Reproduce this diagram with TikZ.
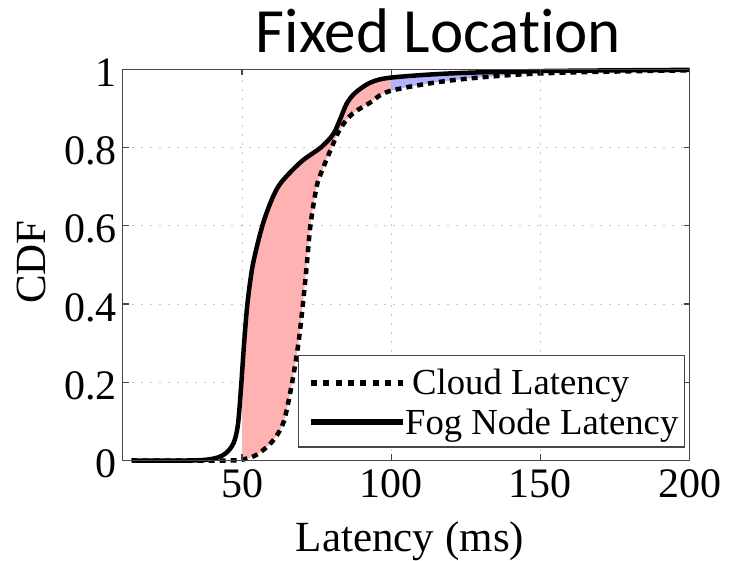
\documentclass[tikz,border=0pt]{standalone}
\usepackage{fontspec}
\setmainfont{Liberation Serif}
\newfontfamily\titlefont[Ligatures={NoCommon}]{Carlito}
\definecolor{gainred}{rgb}{1,0.7,0.7}
\definecolor{gainblue}{rgb}{0.7,0.7,1}
\definecolor{axisgray}{RGB}{70,70,70}
\definecolor{gridgray}{RGB}{200,200,200}
\tikzset{
  gridline/.style={gridgray, line width=1pt, dash pattern=on 2pt off 7pt},
  axisbox/.style={axisgray, line width=1.5pt},
  tickmark/.style={axisgray, line width=1.2pt},
  fogcurve/.style={black, line width=4.5pt, line join=round},
  cloudcurve/.style={black, line width=4.5pt, dash pattern=on 6pt off 5pt},
  ticklabel/.style={inner sep=0pt, font=\fontsize{42}{48}\selectfont},
  axislabel/.style={inner sep=0pt, font=\fontsize{43}{50}\selectfont},
  legendtext/.style={inner sep=0pt, anchor=base west, font=\fontsize{36.7}{42}\selectfont},
}
\def\fogdata{(13,0) (32,0) (38,0.002) (42,0.008) (44.8,0.02) (47.2,0.045) (48.6,0.09) (49.6,0.18) (50.7,0.3) (51.8,0.4) (53.6,0.5) (56.8,0.6) (59.9,0.666) (63,0.71) (69.8,0.764) (76.5,0.801) (80.6,0.835) (83,0.875) (85.1,0.913) (87.9,0.94) (92.9,0.966) (99.6,0.979) (120,0.99) (150,0.996) (200,0.999)}
\def\clouddata{(13,0) (46,0) (50,0.002) (55,0.015) (60.3,0.05) (64,0.1) (66.8,0.2) (68.9,0.3) (70.4,0.4) (71.7,0.5) (72.9,0.6) (75,0.7) (77,0.745) (80,0.8) (82.3,0.84) (85.1,0.872) (87.9,0.892) (92.9,0.915) (99.6,0.945) (120,0.972) (150,0.99) (200,0.998)}
\begin{document}
\begin{tikzpicture}
\useasboundingbox (0,0) rectangle (731pt,561pt);

% title
\node[inner sep=0pt, anchor=base, font=\titlefont\fontsize{63}{70}\selectfont] (title) at (438.5pt,508pt) {Fixed Location};

% axis labels
\node[axislabel, anchor=base] (xlabel) at (410pt,9pt) {Latency (ms)};
\node[axislabel, anchor=base, rotate=90] (ylabel) at (45pt,299pt) {CDF};

\begin{scope}[x=2.9832pt, y=391pt, shift={(92.87pt,100.5pt)}]
  % grid
  \foreach \gx in {50,100,150} \draw[gridline] (\gx,0) -- (\gx,1);
  \foreach \gy in {0.2,0.4,0.6,0.8} \draw[gridline] (10,\gy) -- (200,\gy);

  % region where the fog node is faster (below 100 ms)
  \begin{scope}
    \clip (50,-0.1) rectangle (100,1.1);
    \clip plot[smooth] coordinates {\fogdata} -- (200,-0.1) -- (10,-0.1) -- cycle;
    \fill[gainred] plot[smooth] coordinates {\clouddata} -- (200,1.1) -- (10,1.1) -- cycle;
  \end{scope}
  % region above 100 ms
  \begin{scope}
    \clip (100,-0.1) rectangle (200,1.1);
    \clip plot[smooth] coordinates {\fogdata} -- (200,-0.1) -- (10,-0.1) -- cycle;
    \fill[gainblue] plot[smooth] coordinates {\clouddata} -- (200,1.1) -- (10,1.1) -- cycle;
  \end{scope}

  % curves
  \draw[fogcurve] plot[smooth] coordinates {\fogdata};
  \draw[cloudcurve] plot[smooth] coordinates {\clouddata};

  % axes box and ticks
  \draw[axisbox] (10,0) rectangle (200,1);
  \foreach \tx in {50,100,150} {
    \draw[tickmark] (\tx,0) -- ++(0,6pt);
    \draw[tickmark] (\tx,1) -- ++(0,-6pt);
  }
  \foreach \ty in {0.2,0.4,0.6,0.8} {
    \draw[tickmark] (10,\ty) -- ++(6pt,0);
    \draw[tickmark] (200,\ty) -- ++(-6pt,0);
  }

  % tick labels
  \foreach \tx in {50,100,150,200}
    \node[ticklabel, anchor=base] (xt\tx) at ([yshift=-37.5pt]\tx,0) {\tx};
  \foreach \ty/\tn in {0/0,0.2/02,0.4/04,0.6/06,0.8/08,1/1}
    \node[ticklabel, anchor=base east] (yt\tn) at ([xshift=-5.7pt, yshift=-17pt]10,\ty) {\ty};
\end{scope}

% legend
\node[draw=axisgray, line width=1.2pt, fill=white, inner sep=0pt, minimum width=386.3pt, minimum height=91.7pt, anchor=south west] (legend) at (297.7pt,113.3pt) {};
\coordinate (cloudA) at (310.7pt,178.3pt);
\coordinate (cloudB) at (403.3pt,178.3pt);
\coordinate (fogA) at (310.7pt,138.7pt);
\coordinate (fogB) at (403.3pt,138.7pt);
\draw[black, line width=6pt, dash pattern=on 6pt off 6.4pt] (cloudA) -- (cloudB);
\draw[black, line width=6pt] (fogA) -- (fogB);
\node[legendtext] (cloudtext) at (412pt,166pt) {Cloud Latency};
\node[legendtext] (fogtext) at (405pt,126pt) {Fog Node Latency};
\end{tikzpicture}
\end{document}
